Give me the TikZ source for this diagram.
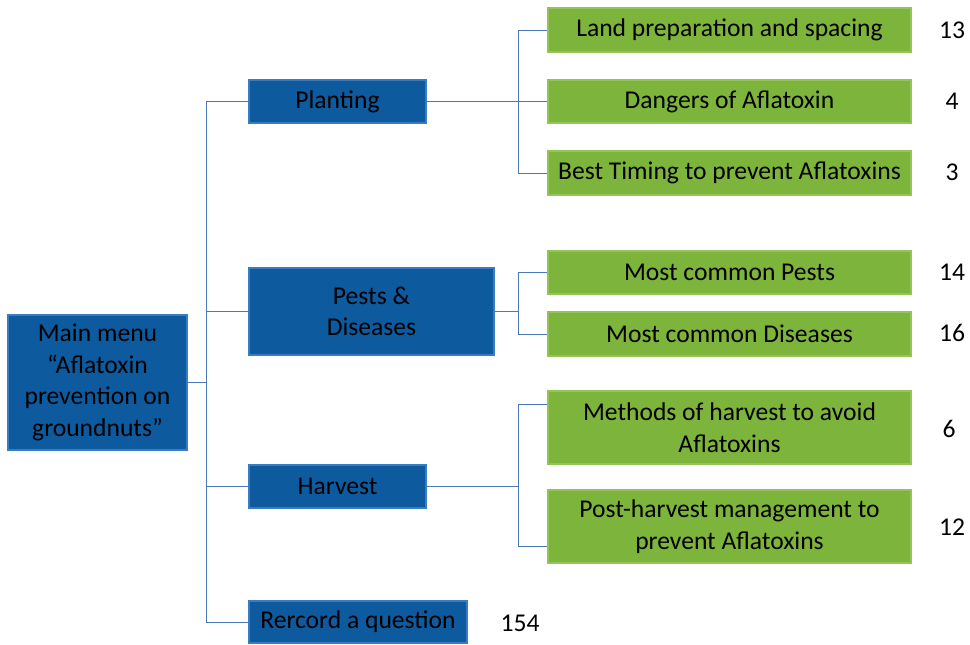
\documentclass[tikz,border=0pt]{standalone}
\usepackage{fontspec}
\setmainfont{Carlito}
\definecolor{bluefill}{HTML}{0E5A9E}
\definecolor{blueedge}{HTML}{3A7CC0}
\definecolor{greenfill}{HTML}{7DB43C}
\definecolor{greenedge}{HTML}{92C456}
\definecolor{linec}{HTML}{4A78B8}
\begin{document}
\begin{tikzpicture}[x=0.75pt,y=-0.75pt,
  bbox/.style={draw=blueedge,line width=1.2pt,fill=bluefill,text=black,font=\fontsize{19.2}{23.6}\selectfont,align=center,inner sep=0pt},
  gbox/.style={draw=greenedge,line width=0.8pt,fill=greenfill,text=black,font=\fontsize{19.2}{23.6}\selectfont,align=center,inner sep=0pt,minimum width=363*0.75pt},
  num/.style={font=\fontsize{19.2}{23.6}\selectfont,text=black},
  conn/.style={draw=linec,line width=0.75pt}]
\useasboundingbox (0,0) rectangle (970,644);
% blue boxes
\node[bbox,minimum width=179*0.75pt,minimum height=135*0.75pt] (main) at (97.5,382.5) {Main menu\\``Aflatoxin\\prevention on\\groundnuts''};
\node[bbox,minimum width=177*0.75pt,minimum height=43*0.75pt] (plant) at (337.5,101.5) {Planting};
\node[bbox,minimum width=245*0.75pt,minimum height=87*0.75pt] (pests) at (371.5,311.5) {Pests \&\\Diseases};
\node[bbox,minimum width=177*0.75pt,minimum height=43*0.75pt] (harv) at (337.5,486.5) {Harvest};
\node[bbox,minimum width=218*0.75pt,minimum height=42*0.75pt] (rec) at (358,622) {Rercord a question};
% green boxes
\node[gbox,minimum height=44*0.75pt] (g1) at (729.5,30) {Land preparation and spacing};
\node[gbox,minimum height=43*0.75pt] (g2) at (729.5,101.5) {Dangers of Aflatoxin};
\node[gbox,minimum height=44*0.75pt] (g3) at (729.5,173) {Best Timing to prevent Aflatoxins};
\node[gbox,minimum height=43*0.75pt] (g4) at (729.5,272.5) {Most common Pests};
\node[gbox,minimum height=44*0.75pt] (g5) at (729.5,334) {Most common Diseases};
\node[gbox,minimum height=73*0.75pt] (g6) at (729.5,427.5) {Methods of harvest to avoid\\Aflatoxins};
\node[gbox,minimum height=73*0.75pt] (g7) at (729.5,526.5) {Post-harvest management to\\prevent Aflatoxins};
% numbers
\node[num] (n1) at (952,30) {13};
\node[num] (n2) at (952,101) {4};
\node[num] (n3) at (952,172) {3};
\node[num] (n4) at (952,272) {14};
\node[num] (n5) at (952,333) {16};
\node[num] (n6) at (949,429) {6};
\node[num] (n7) at (952,527) {12};
\node[num] (n8) at (520,623) {154};
% trunk coordinates
\coordinate (t) at (206,0);
\coordinate (s) at (518,0);
\draw[conn] (main.east) -- (main.east -| t);
\draw[conn] (plant.west -| t) -- (rec.west -| t);
\foreach \b in {plant,pests,harv,rec} \draw[conn] (\b.west -| t) -- (\b.west);
% planting
\draw[conn] (plant.east) -- (plant.east -| s);
\draw[conn] (g1.west -| s) -- (g3.west -| s);
\foreach \g in {g1,g2,g3} \draw[conn] (\g.west -| s) -- (\g.west);
% pests
\draw[conn] (pests.east) -- (pests.east -| s);
\draw[conn] (g4.west -| s) -- (g5.west -| s);
\foreach \g in {g4,g5} \draw[conn] (\g.west -| s) -- (\g.west);
% harvest
\coordinate (h6) at (518,404);
\coordinate (h7) at (518,546);
\draw[conn] (harv.east) -- (harv.east -| s);
\draw[conn] (h6 -| g6.west) -- (h6) -- (h7) -- (h7 -| g7.west);
\end{tikzpicture}
\end{document}
